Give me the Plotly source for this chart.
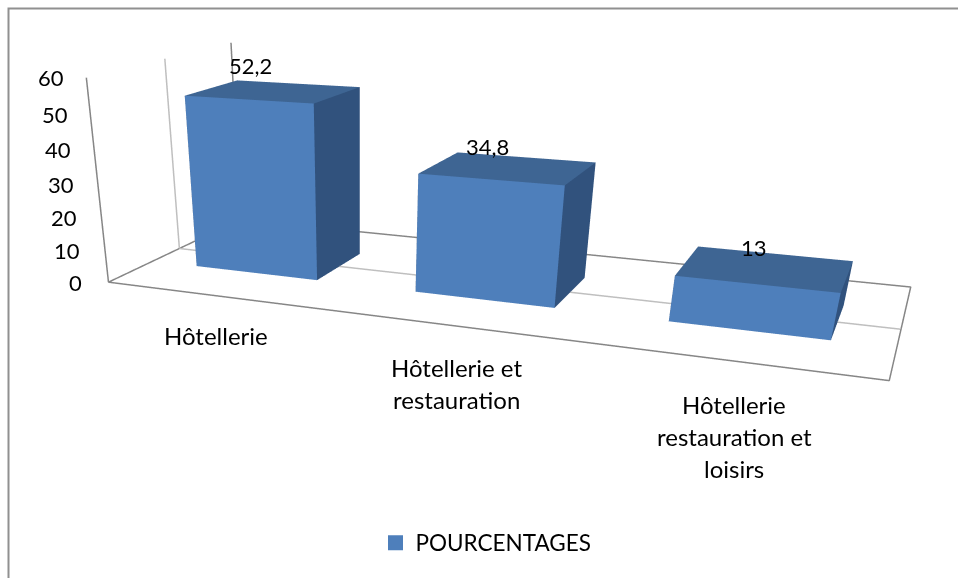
import plotly.graph_objects as go

# ---- data ----
CATEGORY_LINES = [["Hôtellerie"], ["Hôtellerie et", "restauration"], ["Hôtellerie", "restauration et", "loisirs"]]
VALUES = [52.2, 34.8, 13]
VALUE_LABELS = ["52,2", "34,8", "13"]
Z_TICKS = [0, 10, 20, 30, 40, 50, 60]
SERIES = "POURCENTAGES"

# ---- styling / view (fitted camera + Excel-like depth skew) ----
FRONT, SIDE, TOP = "#4E7FBB", "#31527D", "#3E6593"
AXIS, GRID = "#868686", "#BFBFBF"
FONT = dict(family="Lato, Carlito, sans-serif", size=22, color="#000000")
CAT_FONT = dict(FONT, size=24)
LEG_FONT = dict(FONT, size=22.5)
HALF_W, Y0, Y1 = 0.2837, 0.3054, 0.6893
SKEW_X, SKEW_Z = 0.2327, 12.6398
EYE = (0.6197, -2.7138, 0.4763)
CENTER = (0.0229, 0.0, -0.3548)
UPX, ASP_Y, ASP_Z = -0.0498, 0.6391, 0.823
N = len(VALUES)
ZMAX = Z_TICKS[-1]

def X(x, y): return x + SKEW_X * y
def Z(z, y): return z + SKEW_Z * y
DX = -SKEW_X / 2
DZ = -SKEW_Z / 120 * ASP_Z

fig = go.Figure()

def line(pts, color):
    fig.add_trace(go.Scatter3d(
        x=[X(p[0], p[1]) for p in pts], y=[p[1] for p in pts], z=[Z(p[2], p[1]) for p in pts],
        mode="lines", line=dict(color=color, width=3), showlegend=False, hoverinfo="skip"))

line([(0, .5, 0), (N, .5, 0)], GRID)
line([(0, .5, 0), (0, .5, ZMAX)], GRID)
line([(0, 0, ZMAX), (0, 0, 0), (N, 0, 0), (N, 1, 0), (0, 1, 0), (0, 0, 0)], AXIS)
line([(0, 1, 0), (0, 1, ZMAX)], AXIS)

for i, v in enumerate(VALUES):
    l, r = i + .5 - HALF_W, i + .5 + HALF_W
    corners = [(l, Y0, 0), (r, Y0, 0), (r, Y1, 0), (l, Y1, 0), (l, Y0, v), (r, Y0, v), (r, Y1, v), (l, Y1, v)]
    faces = [(0, 1, 5, FRONT), (0, 5, 4, FRONT), (1, 2, 6, SIDE), (1, 6, 5, SIDE), (4, 5, 6, TOP), (4, 6, 7, TOP),
             (3, 0, 4, SIDE), (3, 4, 7, SIDE), (2, 3, 7, SIDE), (2, 7, 6, SIDE), (0, 2, 1, SIDE), (0, 3, 2, SIDE)]
    fig.add_trace(go.Mesh3d(
        x=[X(c[0], c[1]) for c in corners], y=[c[1] for c in corners], z=[Z(c[2], c[1]) for c in corners],
        i=[f[0] for f in faces], j=[f[1] for f in faces], k=[f[2] for f in faces],
        facecolor=[f[3] for f in faces], flatshading=True, showscale=False, hoverinfo="skip",
        lighting=dict(ambient=1, diffuse=0, specular=0, roughness=1, fresnel=0)))

fig.add_trace(go.Scatter3d(x=[None], y=[None], z=[None], mode="markers", name=SERIES, showlegend=True,
                           marker=dict(symbol="square", size=15, color=FRONT)))

ann = []
for t in Z_TICKS:
    ann.append(dict(x=X(0, 0), y=0, z=Z(t, 0), text=str(t), showarrow=False, xanchor="right", yanchor="middle",
                    xshift=-24 + t / 15, font=FONT))
CAT_SHIFT = [(1, -40), (4, -58), (3, -76)]
LINE_GAP = 32
for i, lines in enumerate(CATEGORY_LINES):
    sx, sy = CAT_SHIFT[i]
    for j, t in enumerate(lines):
        ann.append(dict(x=X(i + .5, 0), y=0, z=Z(0, 0), text=t, showarrow=False, xanchor="center", yanchor="middle",
                        xshift=sx, yshift=sy - (j - (len(lines) - 1) / 2) * LINE_GAP, font=CAT_FONT))
LAB_SHIFT = [(-23, 26), (-21, 21), (-11, 21)]
for i, (v, t) in enumerate(zip(VALUES, VALUE_LABELS)):
    ym = (Y0 + Y1) / 2
    ann.append(dict(x=X(i + .5, ym), y=ym, z=Z(v, ym), text=t, showarrow=False, xanchor="center", yanchor="middle",
                    xshift=LAB_SHIFT[i][0], yshift=LAB_SHIFT[i][1], font=FONT))

hidden = dict(visible=False, showgrid=False, zeroline=False, showticklabels=False, showspikes=False)
fig.update_layout(
    width=958, height=578, autosize=False, margin=dict(l=0, r=0, t=0, b=0),
    paper_bgcolor="white", font=FONT, hovermode=False,
    scene=dict(
        dragmode="orbit",
        domain=dict(x=[0, 1], y=[0, 1]),
        xaxis=dict(range=[0, N + SKEW_X], **hidden),
        yaxis=dict(range=[0, 1], **hidden),
        zaxis=dict(range=[0, ZMAX + SKEW_Z], **hidden),
        aspectmode="manual",
        aspectratio=dict(x=N + SKEW_X, y=ASP_Y, z=ASP_Z * (ZMAX + SKEW_Z) / ZMAX),
        camera=dict(
            eye=dict(x=EYE[0] + DX, y=EYE[1], z=EYE[2] + DZ),
            center=dict(x=CENTER[0] + DX, y=CENTER[1], z=CENTER[2] + DZ),
            up=dict(x=UPX, y=0, z=1),
            projection=dict(type="perspective")),
        annotations=ann),
    legend=dict(x=486 / 958, y=1 - 543 / 578, xanchor="center", yanchor="middle", font=LEG_FONT, bgcolor="rgba(0,0,0,0)"),
    shapes=[dict(type="rect", xref="paper", yref="paper", x0=8.5 / 958, x1=1.01, y0=-0.01, y1=1 - 8.5 / 578,
                 line=dict(color="#909090", width=2), layer="below")],
)
fig.write_html("out.html", config=dict(displayModeBar=False),
               post_script="document.body.style.margin='0';")
